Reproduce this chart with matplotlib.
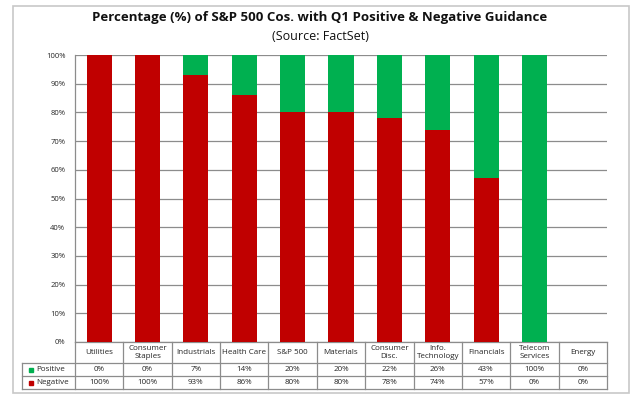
import matplotlib.pyplot as plt
from matplotlib.patches import Rectangle
from matplotlib.lines import Line2D

categories = ["Utilities", "Consumer\nStaples", "Industrials", "Health Care", "S&P 500",
              "Materials", "Consumer\nDisc.", "Info.\nTechnology", "Financials",
              "Telecom\nServices", "Energy"]
positive = [0, 0, 7, 14, 20, 20, 22, 26, 43, 100, 0]
negative = [100, 100, 93, 86, 80, 80, 78, 74, 57, 0, 0]
yticks = [0, 10, 20, 30, 40, 50, 60, 70, 80, 90, 100]

RED = "#C00000"
GREEN = "#00B050"
GRID = "#8c8c8c"
TXT = "#262626"

W, H = 640, 408
fig = plt.figure(figsize=(W / 100, H / 100), dpi=100)
plt.rcParams["font.family"] = ["Open Sans", "DejaVu Sans"]

# outer chart frame
fig.patches.append(Rectangle((13 / W, (H - 393) / H), 616 / W, 387 / H,
                             transform=fig.transFigure, fill=False,
                             edgecolor="#c8c8c8", linewidth=1.2))

left, right, top, bottom = 75, 607, 55, 342
ax = fig.add_axes([left / W, (H - bottom) / H, (right - left) / W, (bottom - top) / H])

n = len(categories)
xs = [i + 0.5 for i in range(n)]
ax.bar(xs, negative, width=0.52, color=RED, zorder=3)
ax.bar(xs, positive, width=0.52, bottom=negative, color=GREEN, zorder=3)

ax.set_xlim(0, n)
ax.set_ylim(0, 100)
ax.set_yticks(yticks)
ax.set_yticklabels([f"{v}%" for v in yticks], fontsize=5.5, color=TXT)
ax.tick_params(axis="y", length=0, pad=7)
ax.set_xticks([])
ax.yaxis.grid(True, color=GRID, linewidth=0.9, zorder=0)
for s in ["top", "right", "bottom"]:
    ax.spines[s].set_visible(False)
ax.spines["left"].set_color(GRID)
ax.spines["left"].set_linewidth(0.9)

fig.text(0.5, (H - 18) / H, "Percentage (%) of S&P 500 Cos. with Q1 Positive & Negative Guidance",
         ha="center", va="center", fontsize=9.5, fontweight="bold", color="#111111")
fig.text(0.5, (H - 37) / H, "(Source: FactSet)", ha="center", va="center",
         fontsize=9, color="#111111")

# data table below the axis
ph = bottom - top
r0 = 0
r1 = -(363 - bottom) / ph
r2 = -(376 - bottom) / ph
r3 = -(389 - bottom) / ph
xl = (22 - left) / ((right - left) / n)
tr = ax.get_xaxis_transform()
lc = dict(color=GRID, linewidth=0.9, transform=tr, clip_on=False)

ax.add_line(Line2D([0, n], [r0, r0], **lc))
for y in (r1, r2, r3):
    ax.add_line(Line2D([xl, n], [y, y], **lc))
for i in range(n + 1):
    ax.add_line(Line2D([i, i], [r0, r3], **lc))
ax.add_line(Line2D([xl, xl], [r1, r3], **lc))

fs = 5.8
for i, cat in enumerate(categories):
    ax.text(i + 0.5, (r0 + r1) / 2, cat, transform=tr, ha="center", va="center",
            fontsize=fs, color=TXT, linespacing=1.1)
    ax.text(i + 0.5, (r1 + r2) / 2, f"{positive[i]}%", transform=tr, ha="center",
            va="center", fontsize=fs, color=TXT)
    ax.text(i + 0.5, (r2 + r3) / 2, f"{negative[i]}%", transform=tr, ha="center",
            va="center", fontsize=fs, color=TXT)

for y0, y1, col, lab in ((r1, r2, GREEN, "Positive"), (r2, r3, RED, "Negative")):
    ym = (y0 + y1) / 2
    ax.plot([xl + 0.18], [ym], marker="s", markersize=3, color=col,
            transform=tr, clip_on=False)
    ax.text(xl + 0.3, ym, lab, transform=tr, ha="left", va="center",
            fontsize=fs, color=TXT)

fig.savefig("out.png", dpi=100, facecolor="white")
